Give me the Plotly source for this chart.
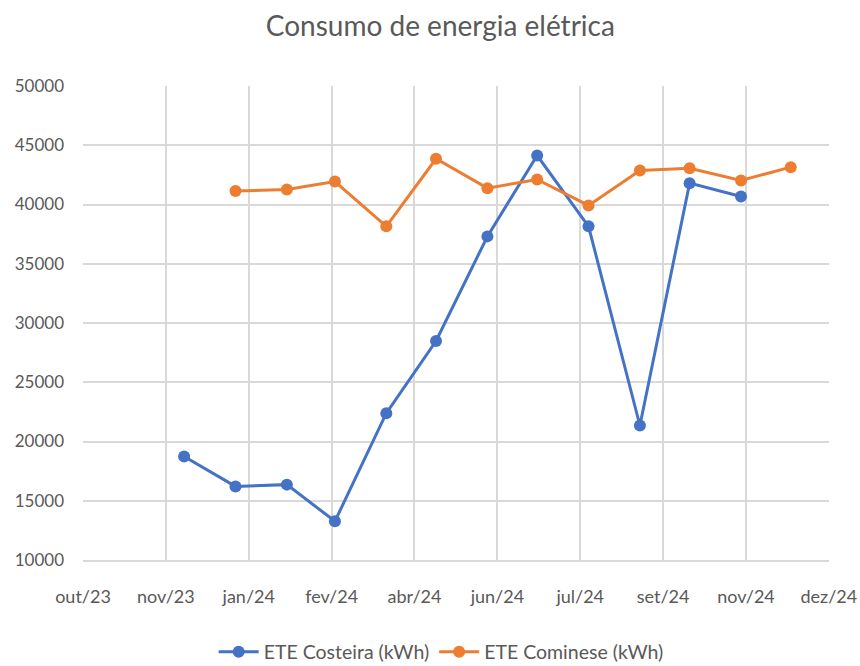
import plotly.graph_objects as go
import pandas as pd

# Monthly electricity consumption (kWh) for the two treatment stations
costeira_months = ["2023-12-01", "2024-01-01", "2024-02-01", "2024-03-01",
                   "2024-04-01", "2024-05-01", "2024-06-01", "2024-07-01",
                   "2024-08-01", "2024-09-01", "2024-10-01", "2024-11-01"]
costeira_kwh = [18740, 16210, 16360, 13270, 22390, 28480,
                37310, 44130, 38160, 21350, 41800, 40680]

cominese_months = ["2024-01-01", "2024-02-01", "2024-03-01", "2024-04-01",
                   "2024-05-01", "2024-06-01", "2024-07-01", "2024-08-01",
                   "2024-09-01", "2024-10-01", "2024-11-01", "2024-12-01"]
cominese_kwh = [41130, 41270, 41940, 38160, 43860, 41380,
                42110, 39920, 42870, 43060, 42030, 43150]

# Date axis with a 50-day major unit, labelled in Portuguese
axis_start = "2023-10-01"
axis_end = "2024-12-24 02:00"
tick_dates = pd.date_range("2023-10-01", periods=10, freq="50D")
tick_labels = ["out/23", "nov/23", "jan/24", "fev/24", "abr/24",
               "jun/24", "jul/24", "set/24", "nov/24", "dez/24"]

FONT = "Lato, sans-serif"
GRAY = "#595959"
GRID = "#d9d9d9"

fig = go.Figure()
fig.add_trace(go.Scatter(
    x=costeira_months, y=costeira_kwh, name="ETE Costeira (kWh)",
    mode="lines+markers",
    line=dict(color="#4472C4", width=3),
    marker=dict(color="#4472C4", size=12),
))
fig.add_trace(go.Scatter(
    x=cominese_months, y=cominese_kwh, name="ETE Cominese (kWh)",
    mode="lines+markers",
    line=dict(color="#ED7D31", width=3),
    marker=dict(color="#ED7D31", size=12),
))

fig.update_layout(
    width=860, height=666,
    paper_bgcolor="white", plot_bgcolor="white",
    margin=dict(l=83, r=31, t=86, b=106, autoexpand=False),
    font=dict(family=FONT, size=17, color=GRAY),
    title=dict(text="Consumo de energia elétrica", x=0.512, xanchor="center",
               y=0.96, yanchor="middle",
               font=dict(family=FONT, size=28, color=GRAY)),
    showlegend=True,
    legend=dict(orientation="h", xref="container", yref="container",
                x=0.513, xanchor="center", y=0.021, yanchor="middle",
                font=dict(family=FONT, size=19.5, color=GRAY),
                itemwidth=40, tracegroupgap=0),
    xaxis=dict(type="date", range=[axis_start, axis_end],
               tickvals=list(tick_dates), ticktext=tick_labels,
               showgrid=True, gridcolor=GRID, gridwidth=1.5,
               showline=True, linecolor=GRID, linewidth=1.5,
               ticks="", zeroline=False, automargin=False,
               tickfont=dict(size=18), ticklabelstandoff=20),
    yaxis=dict(range=[10000, 50000], dtick=5000, tick0=10000, tickformat="d",
               showgrid=True, gridcolor=GRID, gridwidth=1.5,
               showline=False, ticks="", zeroline=False, automargin=False,
               ticklabelstandoff=18),
)

fig.write_html("out.html")
